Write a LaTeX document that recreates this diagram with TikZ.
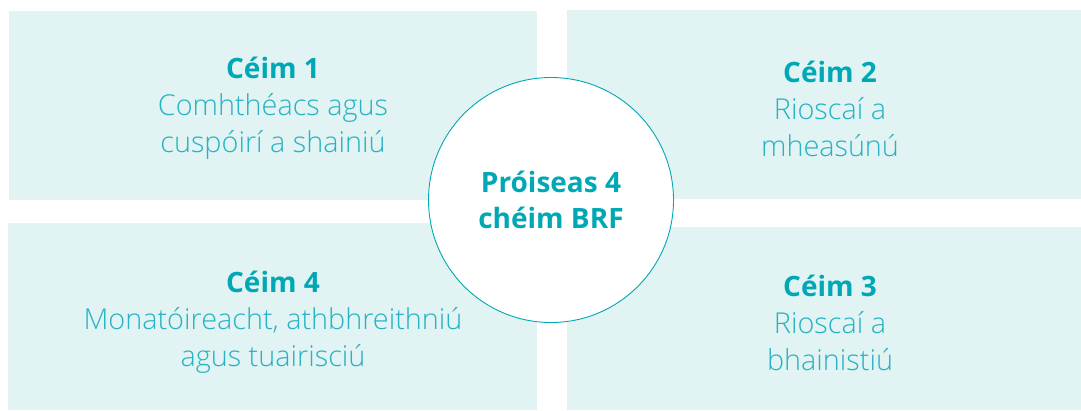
\documentclass[tikz,border=0pt]{standalone}
\usepackage{fontspec}
\setmainfont{Open Sans}
\newfontfamily\thinfont{Open Sans Light}
\usepackage{tikz}
\usetikzlibrary{positioning}

\definecolor{panelfill}{HTML}{E1F3F3}
\definecolor{tealhead}{HTML}{00A8B6}
\definecolor{tealtext}{HTML}{26B3C3}

\newcommand{\stephead}[1]{{\fontspec{Open Sans}\bfseries\fontsize{28}{37}\selectfont\color{tealhead}#1}}

\begin{document}
\begin{tikzpicture}[x=1pt,y=-1pt]
	\tikzstyle{panel}=[fill=panelfill,draw=none,inner sep=0pt]
	\tikzstyle{steptext}=[text=tealtext,align=center,inner sep=0pt,font=\thinfont\fontsize{28.8}{37}\selectfont]
	\tikzstyle{hub}=[circle,fill=white,draw=tealhead,line width=0.9pt,minimum size=245pt,inner sep=0pt]

	\useasboundingbox (0,0) rectangle (1081,410);

	\node[panel,minimum width=528.5pt,minimum height=188.5pt] (p1) at (272.75,105.25) {};
	\node[panel,minimum width=514pt,minimum height=189pt]     (p2) at (824,104.5) {};
	\node[panel,minimum width=514pt,minimum height=183pt]     (p3) at (824,318.5) {};
	\node[panel,minimum width=529pt,minimum height=187pt]     (p4) at (272.5,316.5) {};

	\node[steptext] (t1) at (273,108.5) {\stephead{Céim 1}\\Comhthéacs agus\\cuspóirí a shainiú};
	\node[steptext] (t2) at (830,108.5) {\stephead{Céim 2}\\Rioscaí a\\mheasúnú};
	\node[steptext] (t3) at (830,322.5) {\stephead{Céim 3}\\Rioscaí a\\bhainistiú};
	\node[steptext] (t4) at (273,322.5) {\stephead{Céim 4}\\Monatóireacht, athbhreithniú\\agus tuairisciú};

	\node[hub] (c) at (551,200) {};
	\node[text=tealhead,align=center,font=\bfseries\fontsize{28}{36}\selectfont] (ct) at (c) {Próiseas 4\\chéim BRF};
\end{tikzpicture}
\end{document}
